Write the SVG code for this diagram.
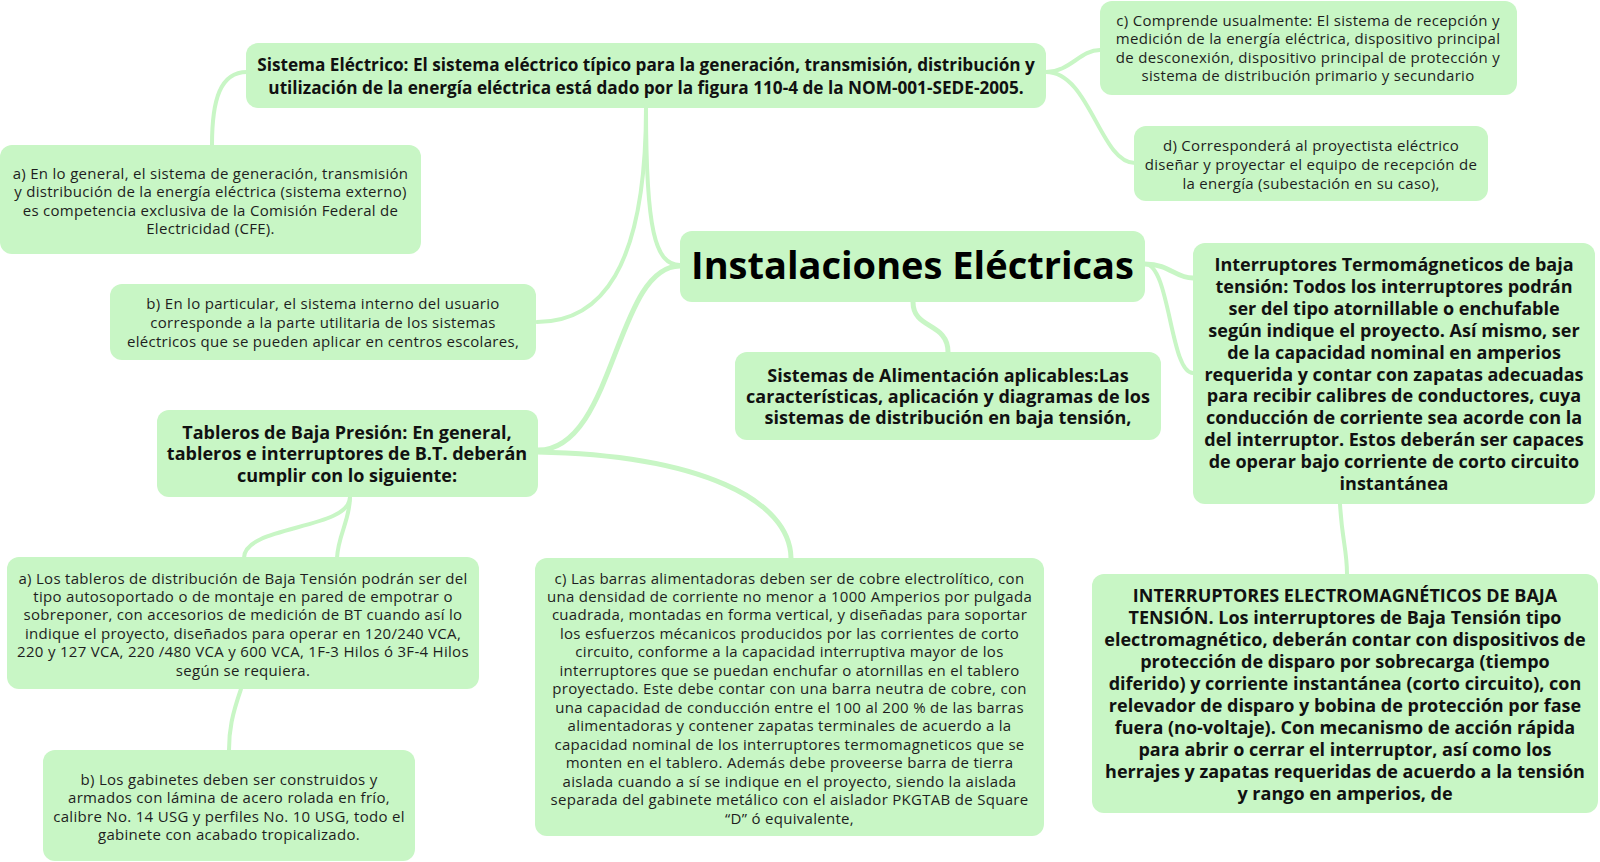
<svg xmlns="http://www.w3.org/2000/svg" width="1600" height="862" viewBox="0 0 1600 862">
<style>
.n{fill:#c8f6c5}
.c{fill:none;stroke:#c8f6c5;stroke-width:4;stroke-linecap:round}
.t{font-family:"Open Sans","Noto Sans","Liberation Sans",sans-serif;font-size:15px;letter-spacing:0.3px;fill:#1e1e1e;text-anchor:middle;dominant-baseline:central}
.b{font-family:"Open Sans","Noto Sans","Liberation Sans",sans-serif;font-size:18px;font-weight:bold;fill:#111;text-anchor:middle;dominant-baseline:central}
</style>
<rect width="1600" height="862" fill="#fff"/>
<g id="connectors">
<path class="c" d="M247,72 C220,72 212,100 212,145"/>
<path class="c" d="M646,108 C646,270 600,322 537,322"/>
<path class="c" d="M646,108 C646,230 655,265 680,265"/>
<path class="c" d="M680,266 C615,266 615,450 538,450" style="stroke-width:5"/>
<path class="c" d="M537,452 C700,455 790,500 791,558" style="stroke-width:5"/>
<path class="c" d="M350,497 C350,530 244,525 244,558"/>
<path class="c" d="M350,497 C350,520 338,535 337,558"/>
<path class="c" d="M241,689 C232,715 229,730 229,750"/>
<path class="c" d="M913,302 C913,330 948,322 948,352" style="stroke-width:5"/>
<path class="c" d="M1145,264 C1170,264 1175,278 1193,278" style="stroke-width:5"/>
<path class="c" d="M1145,264 C1170,264 1170,373 1193,373"/>
<path class="c" d="M1340,504 C1342,540 1347,550 1347,574"/>
<path class="c" d="M1046,72 C1070,72 1080,50 1100,50"/>
<path class="c" d="M1046,72 C1090,72 1100,163 1135,163"/>
</g>
<g id="central">
<rect class="n" x="680" y="231" width="465" height="71" rx="12"/>
<text class="b" x="912.5" y="264" style="font-size:38px;fill:#000">Instalaciones Eléctricas</text>
</g>
<g id="sistema-electrico">
<rect class="n" x="246" y="43" width="800" height="65" rx="12"/>
<text class="b" style="font-size:17.2px"><tspan x="646" y="64">Sistema Eléctrico: El sistema eléctrico típico para la generación, transmisión, distribución y</tspan><tspan x="646" y="87">utilización de la energía eléctrica está dado por la figura 110-4 de la NOM-001-SEDE-2005.</tspan></text>
</g>
<g id="nodo-c-comprende">
<rect class="n" x="1100" y="1" width="417" height="94" rx="12"/>
<text class="t"><tspan x="1308" y="19.5">c) Comprende usualmente: El sistema de recepción y</tspan><tspan x="1308" y="38">medición de la energía eléctrica, dispositivo principal</tspan><tspan x="1308" y="56.5">de desconexión, dispositivo principal de protección y</tspan><tspan x="1308" y="75">sistema de distribución primario y secundario</tspan></text>
</g>
<g id="nodo-d-proyectista">
<rect class="n" x="1134" y="126" width="354" height="75" rx="12"/>
<text class="t"><tspan x="1311" y="145">d) Corresponderá al proyectista eléctrico</tspan><tspan x="1311" y="163.5">diseñar y proyectar el equipo de recepción de</tspan><tspan x="1311" y="182.5">la energía (subestación en su caso),</tspan></text>
</g>
<g id="nodo-a-general">
<rect class="n" x="0" y="145" width="421" height="109" rx="12"/>
<text class="t"><tspan x="210.5" y="172.5">a) En lo general, el sistema de generación, transmisión</tspan><tspan x="210.5" y="191">y distribución de la energía eléctrica (sistema externo)</tspan><tspan x="210.5" y="209.5">es competencia exclusiva de la Comisión Federal de</tspan><tspan x="210.5" y="228">Electricidad (CFE).</tspan></text>
</g>
<g id="nodo-b-particular">
<rect class="n" x="110" y="284" width="426" height="76" rx="12"/>
<text class="t"><tspan x="323" y="303">b) En lo particular, el sistema interno del usuario</tspan><tspan x="323" y="321.5">corresponde a la parte utilitaria de los sistemas</tspan><tspan x="323" y="341">eléctricos que se pueden aplicar en centros escolares,</tspan></text>
</g>
<g id="tableros">
<rect class="n" x="157" y="410" width="381" height="87" rx="12"/>
<text class="b"><tspan x="347" y="432">Tableros de Baja Presión: En general,</tspan><tspan x="347" y="453">tableros e interruptores de B.T. deberán</tspan><tspan x="347" y="474.5">cumplir con lo siguiente:</tspan></text>
</g>
<g id="sistemas-alimentacion">
<rect class="n" x="735" y="352" width="426" height="88" rx="12"/>
<text class="b"><tspan x="948" y="374.5">Sistemas de Alimentación aplicables:Las</tspan><tspan x="948" y="396">características, aplicación y diagramas de los</tspan><tspan x="948" y="417">sistemas de distribución en baja tensión,</tspan></text>
</g>
<g id="interruptores-termomagneticos">
<rect class="n" x="1193" y="243" width="402" height="261" rx="12"/>
<text class="b"><tspan x="1394" y="264.3">Interruptores Termomágneticos de baja</tspan><tspan x="1394" y="286.1">tensión: Todos los interruptores podrán</tspan><tspan x="1394" y="308">ser del tipo atornillable o enchufable</tspan><tspan x="1394" y="329.8">según indique el proyecto. Así mismo, ser</tspan><tspan x="1394" y="351.6">de la capacidad nominal en amperios</tspan><tspan x="1394" y="373.5">requerida y contar con zapatas adecuadas</tspan><tspan x="1394" y="395.3">para recibir calibres de conductores, cuya</tspan><tspan x="1394" y="417.1">conducción de corriente sea acorde con la</tspan><tspan x="1394" y="439">del interruptor. Estos deberán ser capaces</tspan><tspan x="1394" y="460.8">de operar bajo corriente de corto circuito</tspan><tspan x="1394" y="482.6">instantánea</tspan></text>
</g>
<g id="interruptores-electromagneticos">
<rect class="n" x="1092" y="574" width="506" height="239" rx="12"/>
<text class="b"><tspan x="1345" y="595">INTERRUPTORES ELECTROMAGNÉTICOS DE BAJA</tspan><tspan x="1345" y="617">TENSIÓN. Los interruptores de Baja Tensión tipo</tspan><tspan x="1345" y="639">electromagnético, deberán contar con dispositivos de</tspan><tspan x="1345" y="661">protección de disparo por sobrecarga (tiempo</tspan><tspan x="1345" y="683">diferido) y corriente instantánea (corto circuito), con</tspan><tspan x="1345" y="705">relevador de disparo y bobina de protección por fase</tspan><tspan x="1345" y="727">fuera (no-voltaje). Con mecanismo de acción rápida</tspan><tspan x="1345" y="749">para abrir o cerrar el interruptor, así como los</tspan><tspan x="1345" y="771">herrajes y zapatas requeridas de acuerdo a la tensión</tspan><tspan x="1345" y="793">y rango en amperios, de</tspan></text>
</g>
<g id="nodo-a-tableros">
<rect class="n" x="7" y="557" width="472" height="132" rx="12"/>
<text class="t"><tspan x="243" y="577.5">a) Los tableros de distribución de Baja Tensión podrán ser del</tspan><tspan x="243" y="595.9">tipo autosoportado o de montaje en pared de empotrar o</tspan><tspan x="243" y="614.3">sobreponer, con accesorios de medición de BT cuando así lo</tspan><tspan x="243" y="632.7">indique el proyecto, diseñados para operar en 120/240 VCA,</tspan><tspan x="243" y="651.1">220 y 127 VCA, 220 /480 VCA y 600 VCA, 1F-3 Hilos ó 3F-4 Hilos</tspan><tspan x="243" y="669.5">según se requiera.</tspan></text>
</g>
<g id="nodo-b-gabinetes">
<rect class="n" x="43" y="750" width="372" height="111" rx="12"/>
<text class="t"><tspan x="229" y="778.5">b) Los gabinetes deben ser construidos y</tspan><tspan x="229" y="797">armados con lámina de acero rolada en frío,</tspan><tspan x="229" y="815.5">calibre No. 14 USG y perfiles No. 10 USG, todo el</tspan><tspan x="229" y="834">gabinete con acabado tropicalizado.</tspan></text>
</g>
<g id="nodo-c-barras">
<rect class="n" x="535" y="558" width="509" height="278" rx="12"/>
<text class="t"><tspan x="789.5" y="577.5">c) Las barras alimentadoras deben ser de cobre electrolítico, con</tspan><tspan x="789.5" y="596">una densidad de corriente no menor a 1000 Amperios por pulgada</tspan><tspan x="789.5" y="614.4">cuadrada, montadas en forma vertical, y diseñadas para soportar</tspan><tspan x="789.5" y="632.9">los esfuerzos mécanicos producidos por las corrientes de corto</tspan><tspan x="789.5" y="651.3">circuito, conforme a la capacidad interruptiva mayor de los</tspan><tspan x="789.5" y="669.8">interruptores que se puedan enchufar o atornillas en el tablero</tspan><tspan x="789.5" y="688.3">proyectado. Este debe contar con una barra neutra de cobre, con</tspan><tspan x="789.5" y="706.7">una capacidad de conducción entre el 100 al 200 % de las barras</tspan><tspan x="789.5" y="725.2">alimentadoras y contener zapatas terminales de acuerdo a la</tspan><tspan x="789.5" y="743.6">capacidad nominal de los interruptores termomagneticos que se</tspan><tspan x="789.5" y="762.1">monten en el tablero. Además debe proveerse barra de tierra</tspan><tspan x="789.5" y="780.5">aislada cuando a sí se indique en el proyecto, siendo la aislada</tspan><tspan x="789.5" y="799">separada del gabinete metálico con el aislador PKGTAB de Square</tspan><tspan x="789.5" y="817.5">“D” ó equivalente,</tspan></text>
</g>
</svg>
